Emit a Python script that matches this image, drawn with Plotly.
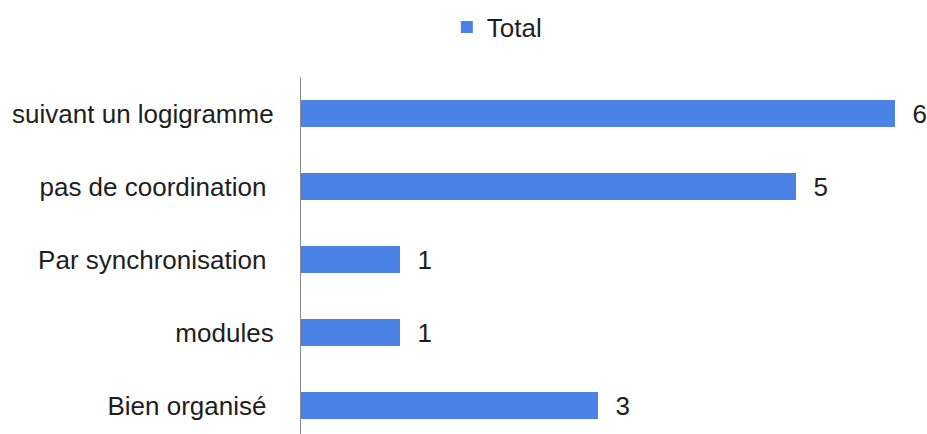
import plotly.graph_objects as go

categories = ["Bien organisé ", "modules", "Par synchronisation ", "pas de coordination ", "suivant un logigramme"]
values = [3, 1, 1, 5, 6]
series_name = "Total"

BAR_COLOR = "#4A82E6"
TEXT_COLOR = "#1e1e1e"
FONT = "Liberation Sans, Arial, sans-serif"
FS = 26

fig = go.Figure()
fig.add_trace(go.Bar(
    y=categories, x=values, orientation="h", name=series_name,
    marker=dict(color=BAR_COLOR, line=dict(width=0)),
    width=0.37, showlegend=True, hoverinfo="x+y",
    text=[f"\u00a0\u00a0{v}" for v in values], textposition="outside", cliponaxis=False,
    textfont=dict(size=FS, color=TEXT_COLOR, family=FONT), constraintext="none",
))

fig.update_layout(
    width=927, height=434,
    margin=dict(l=301, r=0, t=77, b=0, pad=0, autoexpand=False),
    paper_bgcolor="white", plot_bgcolor="white",
    font=dict(family=FONT, size=FS, color=TEXT_COLOR),
    showlegend=True, uniformtext=dict(mode=False),
    legend=dict(orientation="h", x=0.233, xanchor="left", y=1.14, yanchor="middle",
                font=dict(size=FS, color=TEXT_COLOR), bgcolor="rgba(0,0,0,0)"),
)
fig.update_xaxes(range=[0, 626/99], showgrid=False, zeroline=False, showline=False,
                 showticklabels=False, ticks="", automargin=False)
fig.update_yaxes(type="category", categoryorder="array", categoryarray=categories,
                 range=[4.5 - 357/73, 4.5], showgrid=False, zeroline=False,
                 showline=True, linecolor="#8c8c8c", linewidth=1.3, ticks="",
                 automargin=False,
                 ticklabelstandoff=21, tickfont=dict(size=FS, color=TEXT_COLOR, family=FONT))

# remove the default 8px page margin so the figure fills the window exactly
fig.write_html("out.html", config={"displayModeBar": False},
               post_script="document.body.style.margin='0';document.body.style.overflow='hidden';")
